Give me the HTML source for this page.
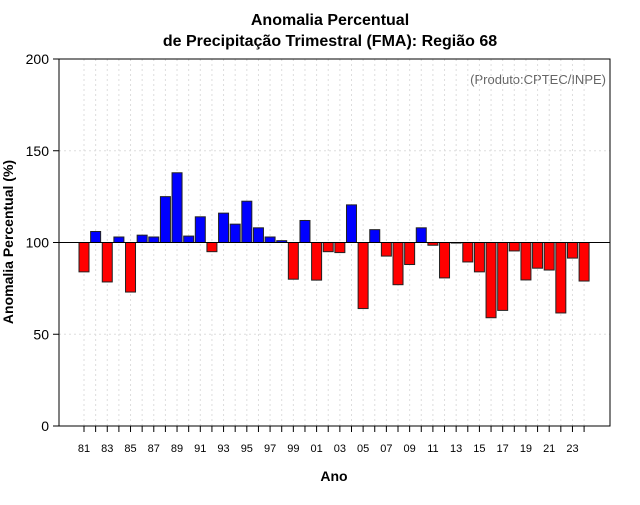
<!DOCTYPE html>
<html><head><meta charset="utf-8"><style>
body{margin:0;background:#fff;}
svg text{font-family:"Liberation Sans",Arial,sans-serif;}
</style></head><body>
<svg id="chart" width="640" height="500" xmlns="http://www.w3.org/2000/svg">
<rect width="640" height="500" fill="#fff"/>
<text x="330" y="25" font-size="16" font-weight="bold" text-anchor="middle">Anomalia Percentual</text>
<text x="330" y="46" font-size="16" font-weight="bold" text-anchor="middle">de Precipitação Trimestral (FMA): Região 68</text>
<text x="334" y="481" font-size="14" font-weight="bold" text-anchor="middle">Ano</text>
<text transform="translate(13,242) rotate(-90)" font-size="14" font-weight="bold" text-anchor="middle">Anomalia Percentual (%)</text>
<text x="606" y="84" font-size="13" fill="#666" text-anchor="end">(Produto:CPTEC/INPE)</text>
<g id="grid"></g><g id="bars"></g><g id="axes"></g>
</svg>
<script>
const years = [1981,1982,1983,1984,1985,1986,1987,1988,1989,1990,1991,1992,1993,1994,1995,1996,1997,1998,1999,2000,2001,2002,2003,2004,2005,2006,2007,2008,2009,2010,2011,2012,2013,2014,2015,2016,2017,2018,2019,2020,2021,2022,2023,2024];
const values = [84,106,78.5,103,73,104,103,125,138,103.5,114,95,116,110,122.5,108,103,101,80,112,79.5,95,94.5,120.5,64,107,92.6,77,88,108,98.5,80.7,99.7,89.4,84,59,63,95.4,79.6,86,85,61.6,91.5,79];
const yTicks = [0,50,100,150,200];
const NS="http://www.w3.org/2000/svg";
const L=59,R=610,T=59,B=426;
const yS=v=>B-(v/200)*(B-T);
const xS=yr=>84+(yr-1981)*11.63;
function mk(tag,attrs,parent){const e=document.createElementNS(NS,tag);for(const k in attrs)e.setAttribute(k,attrs[k]);parent.appendChild(e);return e;}
const grid=document.getElementById('grid'),bars=document.getElementById('bars'),axes=document.getElementById('axes');
years.forEach(yr=>{const l=mk('line',{x1:xS(yr),x2:xS(yr),y1:T,y2:B,stroke:'#ddd','stroke-dasharray':'2,3'},grid);

});
yTicks.forEach(v=>{if(v>0&&v<200){const l=mk('line',{x1:L,x2:R,y1:yS(v),y2:yS(v),stroke:'#ddd','stroke-dasharray':'2,3'},grid);

}});
years.forEach((yr,i)=>{const v=values[i];const y0=yS(100),y1=yS(v);
const r=mk('rect',{x:xS(yr)-5,y:Math.min(y0,y1),width:10,height:Math.abs(y1-y0),fill:v>=100?'#0000ff':'#ff0000',stroke:'#222','stroke-width':1},bars);

});
const bl=mk('line',{x1:L,x2:R,y1:yS(100),y2:yS(100),stroke:'#000','stroke-width':1},axes);


const fr=mk('rect',{x:L,y:T,width:R-L,height:B-T,fill:'none',stroke:'#000','stroke-width':1},axes);


yTicks.forEach(v=>{const t=mk('line',{x1:L-6,x2:L,y1:yS(v),y2:yS(v),stroke:'#000'},axes);


const tx=mk('text',{x:L-10,y:yS(v)+5,'font-size':14,'text-anchor':'end'},axes);tx.textContent=v;

});
years.forEach((yr,i)=>{const t=mk('line',{x1:xS(yr),x2:xS(yr),y1:B,y2:B+6,stroke:'#000'},axes);


if(i%2===0){const tx=mk('text',{x:xS(yr),y:B+26,'font-size':11,'text-anchor':'middle'},axes);tx.textContent=String(yr).slice(2);

}});
</script>
</body></html>
